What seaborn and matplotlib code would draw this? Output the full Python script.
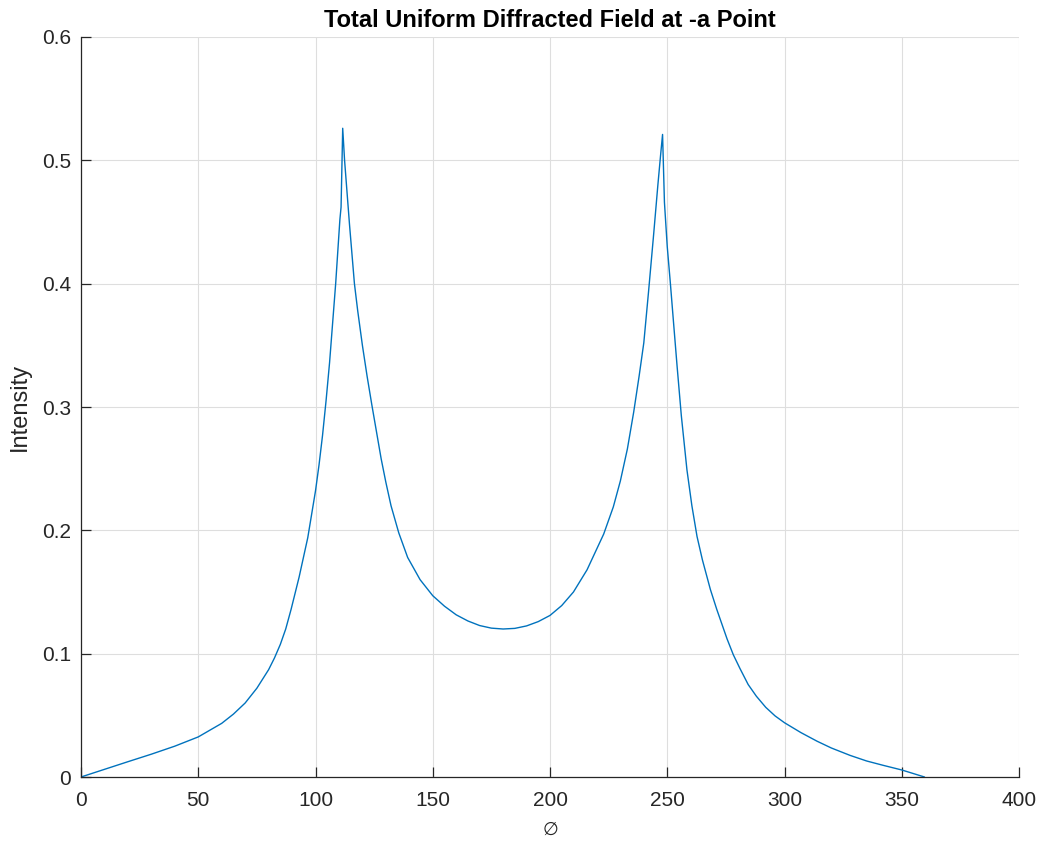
import matplotlib
matplotlib.use("Agg")
import matplotlib.pyplot as plt
import seaborn as sns
import pandas as pd

# ---- data ----
phi = [0, 10, 20, 30, 40, 50, 60, 65, 70, 75, 80, 82.5, 85, 87.3, 89.6, 93,
       96.7, 100,
       101.5, 103, 104.5, 106, 108.6, 110.4, 110.9, 111.6,
       112.4, 114.5, 116.6, 118, 120, 122, 124, 126, 128, 130, 132.2, 135.5,
       139.3, 144.6, 150, 155, 160, 165, 170, 175, 180,
       185, 190, 195, 200, 205, 210, 215.8, 222.9, 227, 230, 233, 235.7, 238,
       240, 242, 244.2, 246, 247.1, 248,
       248.8, 250, 251.3, 252.7, 254.2, 256, 258.4, 260.5, 262.7, 265, 268.4,
       271.1, 275.5, 278.2, 281, 284.5, 288, 292, 296, 300,
       307, 313.9, 320, 328, 335, 342, 350, 359.7]
intensity = [0.000, 0.0062, 0.0124, 0.0185, 0.025, 0.0325, 0.0435, 0.051,
             0.060, 0.072, 0.087, 0.0965, 0.1075, 0.120, 0.136, 0.162,
             0.194, 0.232,
             0.253, 0.277, 0.305, 0.336, 0.400, 0.452, 0.462, 0.526,
             0.500, 0.448, 0.400, 0.378, 0.350, 0.325, 0.302, 0.280, 0.258,
             0.239, 0.220, 0.198,
             0.178, 0.160, 0.147, 0.1385, 0.1315, 0.1265, 0.1228, 0.1207, 0.120,
             0.1205, 0.1225, 0.126, 0.131, 0.139, 0.150, 0.168, 0.197, 0.219,
             0.240, 0.266, 0.296, 0.325,
             0.352, 0.393, 0.440, 0.480, 0.503, 0.521,
             0.466, 0.430, 0.401, 0.368, 0.333, 0.293, 0.249, 0.220, 0.195,
             0.176, 0.152,
             0.136, 0.112, 0.099, 0.088, 0.075, 0.0655, 0.0565, 0.0495, 0.044,
             0.036, 0.029, 0.0235, 0.0175, 0.013, 0.0095, 0.0057, 0.0]

x_ticks = [0, 50, 100, 150, 200, 250, 300, 350, 400]
y_ticks = [0, 0.1, 0.2, 0.3, 0.4, 0.5, 0.6]
y_tick_labels = ["0", "0.1", "0.2", "0.3", "0.4", "0.5", "0.6"]

title_text = "Total Uniform Diffracted Field at -a Point"
x_label = "\u2205"
y_label = "Intensity"

# ---- style ----
sns.set_style("ticks")
plt.rcParams["font.family"] = ["Liberation Sans", "DejaVu Sans"]

fig = plt.figure(figsize=(10.49, 8.47), dpi=100)
ax = fig.add_axes([81 / 1049, 70 / 847, 938 / 1049, 740 / 847])

df = pd.DataFrame({"phi": phi, "intensity": intensity})
sns.lineplot(data=df, x="phi", y="intensity", ax=ax, estimator=None,
             sort=False, color="#0072BD", linewidth=1.0)

ax.set_xlim(0, 400)
ax.set_ylim(0, 0.6)
ax.set_xticks(x_ticks)
ax.set_xticklabels([str(t) for t in x_ticks])
ax.set_yticks(y_ticks)
ax.set_yticklabels(y_tick_labels)

ax.grid(True, color="#dedede", linewidth=0.8)
ax.set_axisbelow(True)

for s in ["top", "right"]:
    ax.spines[s].set_visible(False)
for s in ["left", "bottom"]:
    ax.spines[s].set_color("#262626")
    ax.spines[s].set_linewidth(0.9)

ax.tick_params(axis="both", direction="in", length=7, width=0.9,
               colors="#262626", labelsize=15, labelcolor="#262626")
ax.tick_params(axis="x", pad=10)
ax.tick_params(axis="y", pad=7)

ax.set_title(title_text, fontsize=17, fontweight="bold", color="black", pad=7)
ax.set_xlabel(x_label, fontsize=13, color="#262626", labelpad=8,
              family=["DejaVu Sans"])
ax.set_ylabel(y_label, fontsize=17, color="#262626", labelpad=8)

fig.savefig("out.png", dpi=100, facecolor="white")
